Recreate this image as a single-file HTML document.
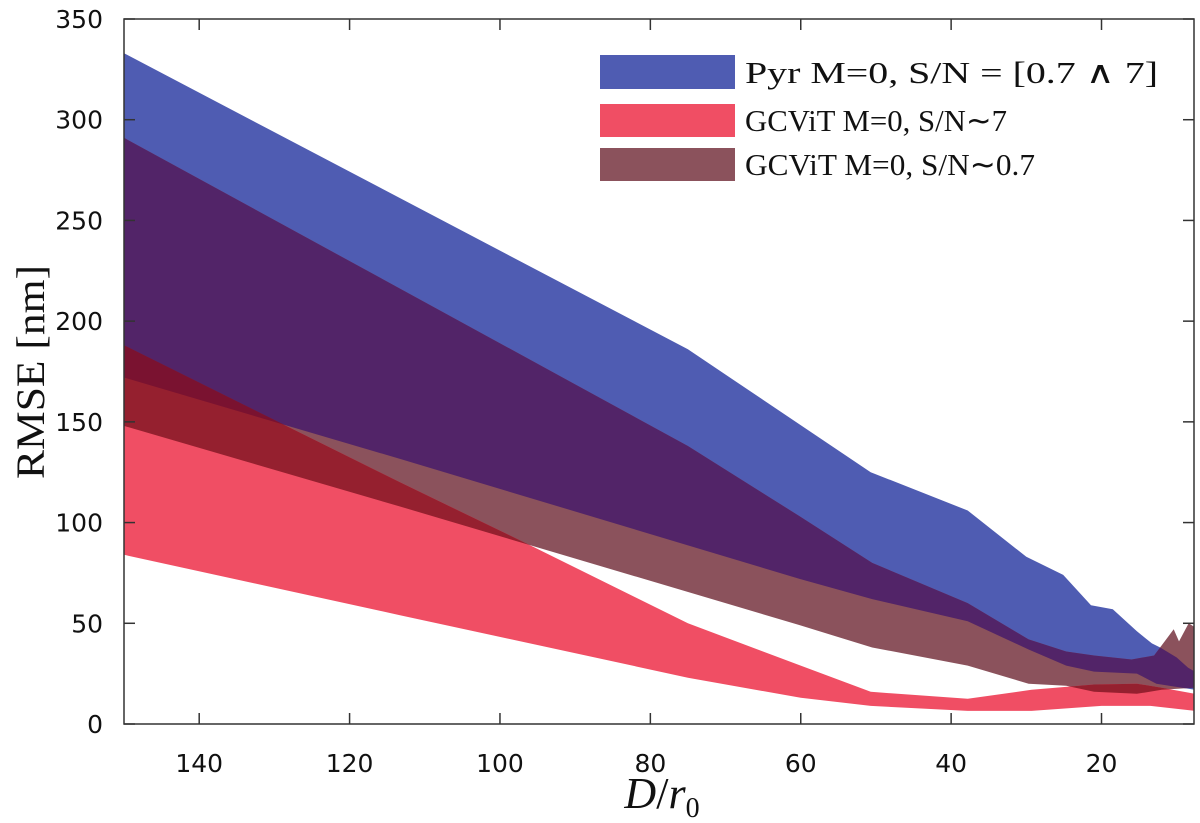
<!DOCTYPE html>
<html><head><meta charset="utf-8"><style>
html,body{margin:0;padding:0;background:#fff;}
svg{display:block;}
</style></head><body>
<svg id="chart" width="1200" height="823" viewBox="0 0 1200 823" xmlns="http://www.w3.org/2000/svg">
<defs id="defs"></defs>
<g id="plot"></g>
<g id="axes"></g>
<g id="legend">
  <rect x="600" y="55" width="135" height="34" fill="#4f5cb2"/>
  <rect x="600" y="104" width="135" height="33" fill="#f04e64"/>
  <rect x="600" y="148" width="135" height="33" fill="#8b525c"/>
  <text x="745" y="83" font-family="Liberation Serif, serif" font-size="31" fill="#111" textLength="413" lengthAdjust="spacingAndGlyphs">Pyr M=0, S/N = [0.7 ∧ 7]</text>
  <text x="745" y="131" font-family="Liberation Serif, serif" font-size="31" fill="#111" textLength="262" lengthAdjust="spacingAndGlyphs">GCViT M=0, S/N∼7</text>
  <text x="745" y="175" font-family="Liberation Serif, serif" font-size="31" fill="#111" textLength="290" lengthAdjust="spacingAndGlyphs">GCViT M=0, S/N∼0.7</text>
</g>
<text transform="translate(44,372) rotate(-90)" text-anchor="middle" font-family="Liberation Serif, serif" font-size="40" fill="#111" textLength="214" lengthAdjust="spacingAndGlyphs">RMSE [nm]</text>
<text x="662" y="808" text-anchor="middle" font-family="Liberation Serif, serif" font-size="44" fill="#111"><tspan font-style="italic">D</tspan>/<tspan font-style="italic">r</tspan><tspan font-size="28" dy="9">0</tspan></text>
</svg>
<script>
// ---- data ----
const pyrUpperD = [150, 75, 50.7, 37.8, 30, 25.1, 21.4, 18.5, 15.3, 13.3, 12.2, 10, 8.5, 7.6];
const pyrUpperV = [333, 186, 125, 106, 83, 74, 59, 57, 46, 40, 38, 33, 28, 26];
const pyrLowerD = [150, 113.3, 60.1, 50.5, 37.8, 29.7, 24.7, 21, 15.3, 12.7, 7.6];
const pyrLowerV = [172, 131.6, 72, 62, 51, 37, 29, 26, 25, 20, 17];
const lowUpperD = [150, 75, 60.1, 50.5, 37.8, 29.7, 24.7, 21, 16, 13, 10.4, 9.7, 8.4, 7.6];
const lowUpperV = [291, 138, 103, 80, 60, 42, 36, 34, 32, 34, 47, 41, 50, 48];
const lowLowerD = [150, 113.3, 60.1, 50.5, 37.8, 29.7, 24.7, 21, 15.3, 12, 7.6];
const lowLowerV = [148, 108, 49, 38, 29, 20, 19, 16, 15, 17, 18];
const hiUpperD = [150, 113.3, 95.6, 75, 60, 50.7, 37.8, 29.3, 21, 15.3, 12, 7.6];
const hiUpperV = [188, 120, 88, 50, 29, 16, 12.5, 17, 19.6, 20, 18, 15];
const hiLowerD = [150, 113.3, 75, 60, 50.7, 37.8, 29.3, 20, 13.5, 7.6];
const hiLowerV = [84, 54, 23, 13, 9, 6.5, 6.5, 9, 9, 6.5];
const xTicks = [140, 120, 100, 80, 60, 40, 20];
const yTicks = [0, 50, 100, 150, 200, 250, 300, 350];

// ---- axes ----
const X0 = 124, X1 = 1194, Y0 = 724, Y1 = 19;
const DMAX = 150, DMIN = 7.7;
const xs = d => X0 + (DMAX - d) * (X1 - X0) / (DMAX - DMIN);
const ys = v => Y0 - v * (Y0 - Y1) / 350;
const NS = 'http://www.w3.org/2000/svg';
function mk(tag, attrs, parent) {
  const e = document.createElementNS(NS, tag);
  for (const k in attrs) e.setAttribute(k, attrs[k]);
  parent.appendChild(e); return e;
}
function bandPts(uD, uV, lD, lV) {
  const p = [];
  for (let i = 0; i < uD.length; i++) p.push(xs(uD[i]).toFixed(1) + ',' + ys(uV[i]).toFixed(1));
  for (let i = lD.length - 1; i >= 0; i--) p.push(xs(lD[i]).toFixed(1) + ',' + ys(lV[i]).toFixed(1));
  return p.join(' ');
}
const defs = document.getElementById('defs');
const plot = document.getElementById('plot');
const axes = document.getElementById('axes');
const pyrP = bandPts(pyrUpperD, pyrUpperV, pyrLowerD, pyrLowerV);
const lowP = bandPts(lowUpperD, lowUpperV, lowLowerD, lowLowerV);
const hiP = bandPts(hiUpperD, hiUpperV, hiLowerD, hiLowerV);
const cpArea = mk('clipPath', {id: 'cpArea'}, defs);
mk('rect', {x: X0, y: Y1, width: X1 - X0, height: Y0 - Y1}, cpArea);
const cpBlue = mk('clipPath', {id: 'cpBlue'}, defs);
mk('polygon', {points: pyrP}, cpBlue);
const cpBrown = mk('clipPath', {id: 'cpBrown'}, defs);
mk('polygon', {points: lowP}, cpBrown);
plot.setAttribute('clip-path', 'url(#cpArea)');

const b1 = mk('polygon', {points: pyrP, fill: '#4f5cb2'}, plot);


const b2 = mk('polygon', {points: lowP, fill: '#8b525c'}, plot);


const b3 = mk('polygon', {points: hiP, fill: '#f04e64'}, plot);


// overlaps
const gBR = mk('g', {'clip-path': 'url(#cpBlue)'}, plot);
const o1 = mk('polygon', {points: hiP, fill: '#b8287a'}, gBR);


const gP = mk('g', {'clip-path': 'url(#cpBlue)'}, plot);
const o2 = mk('polygon', {points: lowP, fill: '#522468'}, gP);


const gD = mk('g', {'clip-path': 'url(#cpBrown)'}, plot);
const o3 = mk('polygon', {points: hiP, fill: '#95202f'}, gD);


const gM1 = mk('g', {'clip-path': 'url(#cpBlue)'}, plot);
const gM2 = mk('g', {'clip-path': 'url(#cpBrown)'}, gM1);
const o4 = mk('polygon', {points: hiP, fill: '#7a1230'}, gM2);



// frame and ticks
const fr = mk('rect', {x: X0, y: Y1, width: X1 - X0, height: Y0 - Y1, fill: 'none', stroke: '#333', 'stroke-width': 1.5}, axes);


xTicks.forEach(t => {
  const x = xs(t);
  mk('line', {x1: x, y1: Y0, x2: x, y2: Y0 - 11, stroke: '#333', 'stroke-width': 1.5}, axes);
  mk('line', {x1: x, y1: Y1, x2: x, y2: Y1 + 11, stroke: '#333', 'stroke-width': 1.5}, axes);
  const tl = mk('text', {x: x, y: 772, 'text-anchor': 'middle', 'font-family': 'DejaVu Sans, sans-serif', 'font-size': 25, fill: '#111'}, axes);
  
  
  tl.textContent = t;
});
yTicks.forEach(t => {
  const y = ys(t);
  mk('line', {x1: X0, y1: y, x2: X0 + 11, y2: y, stroke: '#333', 'stroke-width': 1.5}, axes);
  mk('line', {x1: X1, y1: y, x2: X1 - 11, y2: y, stroke: '#333', 'stroke-width': 1.5}, axes);
  const tl = mk('text', {x: 103, y: y + 9, 'text-anchor': 'end', 'font-family': 'DejaVu Sans, sans-serif', 'font-size': 25, fill: '#111'}, axes);
  
  
  tl.textContent = t;
});
</script>
</body></html>
